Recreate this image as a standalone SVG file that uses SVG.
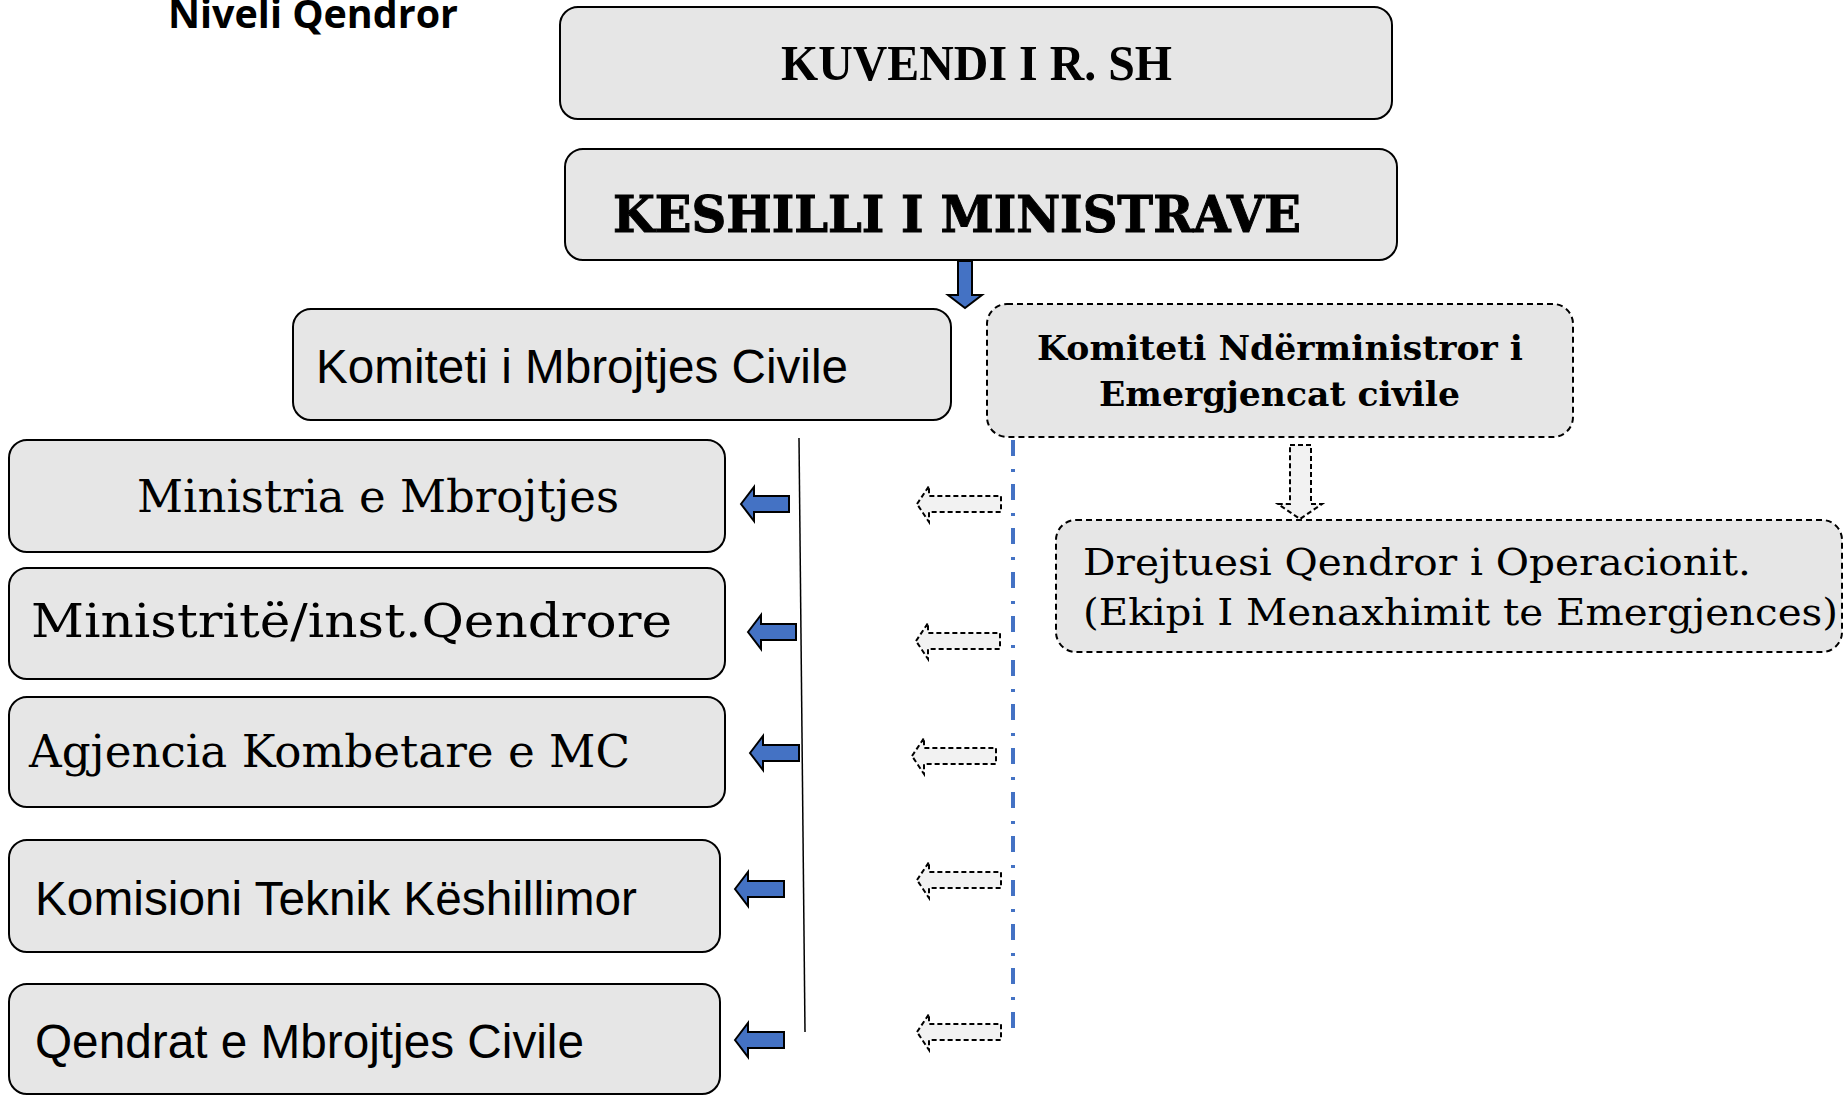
<svg xmlns="http://www.w3.org/2000/svg" width="1845" height="1095" viewBox="0 0 1845 1095">
<style>
.box{fill:#e6e6e6;stroke:#000;stroke-width:2}
.dbox{fill:#e6e6e6;stroke:#000;stroke-width:2;stroke-dasharray:6 4}
.sans{font-family:"Liberation Sans",Arial,sans-serif;font-size:48px;fill:#000}
.serif{font-family:"DejaVu Serif",serif;fill:#000}
.bserif{font-family:"DejaVu Serif",serif;font-weight:bold;fill:#000}
.times{font-family:"Liberation Serif","Times New Roman",serif;font-weight:bold;fill:#000}
.barrow{fill:#4472C4;stroke:#000;stroke-width:2;stroke-linejoin:miter}
.darrow{fill:#f2f2f2;stroke:#000;stroke-width:2;stroke-dasharray:5 3}
</style>
<rect width="1845" height="1095" fill="#fff"/>
<text x="168" y="28" font-family="Open Sans, sans-serif" font-weight="bold" font-size="40" textLength="290" lengthAdjust="spacingAndGlyphs">Niveli Qendror</text>

<g id="kuvendi">
<rect class="box" x="560" y="7" width="832" height="112" rx="18"/>
<text class="times" x="781" y="80" font-size="50" textLength="391" lengthAdjust="spacingAndGlyphs">KUVENDI I R. SH</text>
</g>
<g id="keshilli">
<rect class="box" x="565" y="149" width="832" height="111" rx="18"/>
<text class="bserif" x="613" y="232" font-size="50" stroke="#000" stroke-width="1" textLength="688" lengthAdjust="spacingAndGlyphs">KESHILLI I MINISTRAVE</text>
</g>
<g id="komiteti-mc">
<rect class="box" x="293" y="309" width="658" height="111" rx="18"/>
<text class="sans" x="316" y="383" textLength="532" lengthAdjust="spacingAndGlyphs">Komiteti i Mbrojtjes Civile</text>
</g>
<g id="komiteti-nder">
<rect class="dbox" x="987" y="304" width="586" height="133" rx="20"/>
<text class="bserif" x="1037" y="360" font-size="33" textLength="486" lengthAdjust="spacingAndGlyphs">Komiteti Ndërministror i</text>
<text class="bserif" x="1099" y="406" font-size="33" textLength="361" lengthAdjust="spacingAndGlyphs">Emergjencat civile</text>
</g>
<g id="drejtuesi">
<rect class="dbox" x="1056" y="520" width="786" height="132" rx="20"/>
<text class="serif" x="1083" y="575" font-size="38" textLength="668" lengthAdjust="spacingAndGlyphs">Drejtuesi Qendror i Operacionit.</text>
<text class="serif" x="1083" y="625" font-size="38" textLength="755" lengthAdjust="spacingAndGlyphs">(Ekipi I Menaxhimit te Emergjences)</text>
</g>
<g id="ministria">
<rect class="box" x="9" y="440" width="716" height="112" rx="18"/>
<text class="serif" x="137" y="512" font-size="45" textLength="482" lengthAdjust="spacingAndGlyphs">Ministria e Mbrojtjes</text>
</g>
<g id="ministrite">
<rect class="box" x="9" y="568" width="716" height="111" rx="18"/>
<text class="serif" x="31" y="637" font-size="47" textLength="641" lengthAdjust="spacingAndGlyphs">Ministritë/inst.Qendrore</text>
</g>
<g id="agjencia">
<rect class="box" x="9" y="697" width="716" height="110" rx="18"/>
<text class="serif" x="29" y="767" font-size="45" textLength="601" lengthAdjust="spacingAndGlyphs">Agjencia Kombetare e MC</text>
</g>
<g id="komisioni">
<rect class="box" x="9" y="840" width="711" height="112" rx="18"/>
<text class="sans" x="35" y="915" textLength="602" lengthAdjust="spacingAndGlyphs">Komisioni Teknik Këshillimor</text>
</g>
<g id="qendrat">
<rect class="box" x="9" y="984" width="711" height="110" rx="18"/>
<text class="sans" x="35" y="1058" textLength="549" lengthAdjust="spacingAndGlyphs">Qendrat e Mbrojtjes Civile</text>
</g>

<g id="connectors">
<polygon class="barrow" points="958,261 972,261 972,295 982,295 965,308 948,295 958,295"/>
<line x1="799" y1="438" x2="805" y2="1032" stroke="#000" stroke-width="1.5"/>
<line x1="1013" y1="440" x2="1013" y2="1030" stroke="#4472C4" stroke-width="4" stroke-dasharray="16 13 3 12"/>
<polygon class="barrow" points="741,504 754,487 754,496 789,496 789,512 754,512 754,521"/>
<polygon class="barrow" points="748,632 761,615 761,624 796,624 796,640 761,640 761,649"/>
<polygon class="barrow" points="750,753 763,736 763,745 799,745 799,761 763,761 763,770"/>
<polygon class="barrow" points="735,889 748,872 748,881 784,881 784,897 748,897 748,906"/>
<polygon class="barrow" points="735,1040 748,1023 748,1032 784,1032 784,1048 748,1048 748,1057"/>
<polygon class="darrow" points="917,504 929,486 929,496 1001,496 1001,512 929,512 929,522"/>
<polygon class="darrow" points="916,641 928,623 928,633 1000,633 1000,649 928,649 928,659"/>
<polygon class="darrow" points="912,756 924,738 924,748 996,748 996,764 924,764 924,774"/>
<polygon class="darrow" points="917,880 929,862 929,872 1001,872 1001,888 929,888 929,898"/>
<polygon class="darrow" points="917,1032 929,1014 929,1024 1001,1024 1001,1040 929,1040 929,1050"/>
<polygon class="darrow" points="1290,445 1311,445 1311,504 1322,504 1300,519 1278,504 1290,504"/>
</g>
</svg>
